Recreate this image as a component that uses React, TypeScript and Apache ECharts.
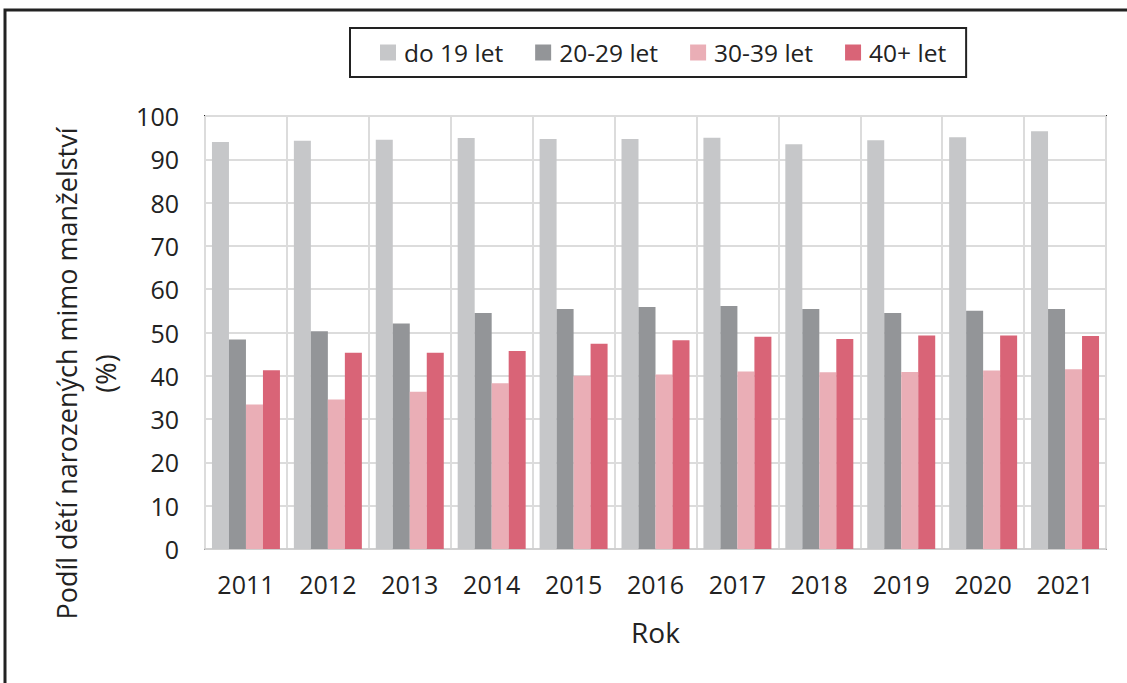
import React, { useEffect, useRef } from "react";
import * as echarts from "echarts";

const years = ["2011", "2012", "2013", "2014", "2015", "2016", "2017", "2018", "2019", "2020", "2021"];
const seriesNames = ["do 19 let", "20-29 let", "30-39 let", "40+ let"];
const under19 = [94.0, 94.3, 94.5, 94.9, 94.7, 94.7, 95.0, 93.5, 94.4, 95.1, 96.5];
const age20to29 = [48.4, 50.3, 52.1, 54.5, 55.4, 55.9, 56.1, 55.4, 54.5, 55.0, 55.4];
const age30to39 = [33.4, 34.5, 36.3, 38.3, 40.0, 40.3, 41.0, 40.8, 40.9, 41.2, 41.5];
const age40plus = [41.3, 45.3, 45.3, 45.7, 47.4, 48.2, 49.0, 48.5, 49.3, 49.3, 49.2];
const colors = ["#c6c7c9", "#939598", "#eaaeb6", "#d96477"];
const yTicks = { min: 0, max: 100, interval: 10 };

export default function App() {
  const ref = useRef<HTMLDivElement>(null);
  useEffect(() => {
    if (!ref.current) return;
    const chart = echarts.init(ref.current, null, { renderer: "svg" });
    const font = "'Open Sans', 'Noto Sans', sans-serif";
    const data = [under19, age20to29, age30to39, age40plus];
    chart.setOption({
      animation: false,
      textStyle: { fontFamily: font, color: "#222" },
      graphic: [
        {
          type: "rect",
          shape: { x: 5, y: 10, width: 1200, height: 800 },
          style: { fill: "none", stroke: "#222", lineWidth: 3 },
          z: 0,
        },
      ],
      legend: {
        left: 350,
        top: 28,
        padding: [12, 20, 12, 30],
        itemGap: 32,
        itemWidth: 16,
        itemHeight: 16,
        borderColor: "#222",
        borderWidth: 2,
        icon: "rect",
        textStyle: { fontSize: 24.5, color: "#222", fontFamily: font, padding: [0, 0, 0, 3] },
        data: seriesNames,
      },
      grid: {
        left: 205,
        top: 116,
        right: 21,
        bottom: 134,
        show: true,
        borderColor: "#222",
        borderWidth: 2,
        containLabel: false,
      },
      xAxis: {
        type: "category",
        data: years,
        axisTick: { show: false },
        axisLine: { show: true, lineStyle: { color: "#d0d0d0", width: 2 } },
        splitLine: { show: true, lineStyle: { color: "#dcdcdc", width: 2 } },
        axisLabel: { fontSize: 25, color: "#222", margin: 22, fontFamily: font },
        name: "Rok",
        nameLocation: "middle",
        nameGap: 69,
        nameTextStyle: { fontSize: 28, color: "#222", fontFamily: font },
      },
      yAxis: {
        type: "value",
        min: yTicks.min,
        max: yTicks.max,
        interval: yTicks.interval,
        axisLine: { show: false },
        axisTick: { show: false },
        splitLine: { show: true, lineStyle: { color: "#dcdcdc", width: 2 } },
        axisLabel: { fontSize: 25, color: "#222", margin: 26, fontFamily: font },
        name: "Podíl dětí narozených mimo manželství\n(%)",
        nameLocation: "middle",
        nameGap: 75,
        nameTextStyle: {
          fontSize: 27,
          color: "#222",
          lineHeight: 39,
          fontFamily: font,
          padding: [0, 82, 0, 0],
        },
      },
      series: seriesNames.map((name, i) => ({
        name,
        type: "bar",
        data: data[i],
        barGap: "0%",
        barCategoryGap: "17%",
        itemStyle: { color: colors[i] },
      })),
    });
    return () => chart.dispose();
  }, []);
  return (
    <div
      ref={ref}
      style={{ position: "fixed", left: 0, top: 0, width: 1127, height: 683, background: "#fff" }}
    />
  );
}
